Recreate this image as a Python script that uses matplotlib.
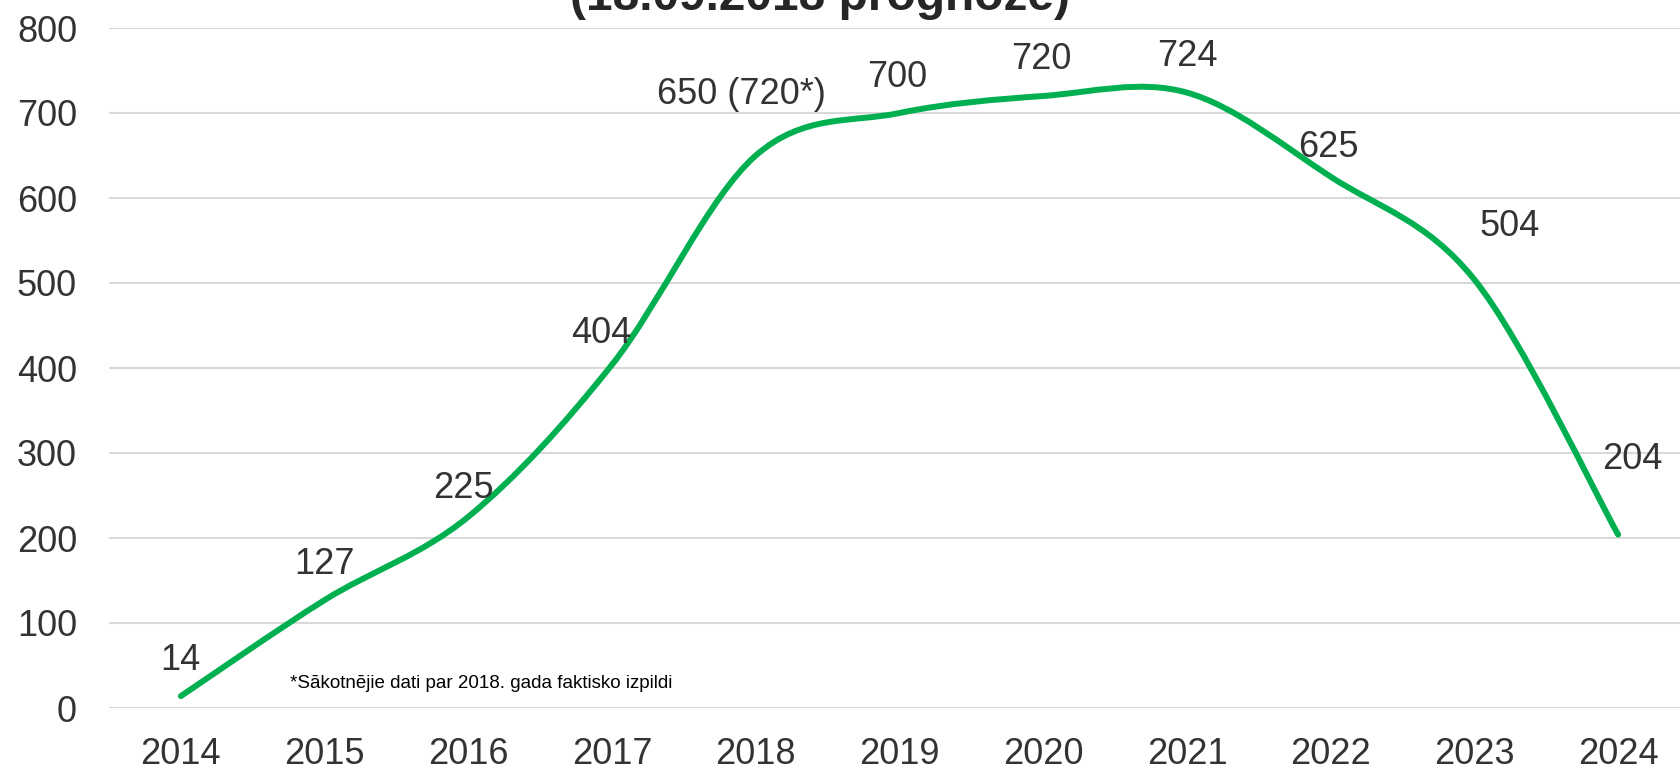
import matplotlib.pyplot as plt
import numpy as np
from matplotlib.path import Path
from matplotlib.patches import PathPatch

plt.rcParams['font.family'] = ['Liberation Sans', 'DejaVu Sans']

gadi = ['2014', '2015', '2016', '2017', '2018', '2019', '2020', '2021', '2022', '2023', '2024']
vertibas = [14, 127, 225, 404, 650, 700, 720, 724, 625, 504, 204]
etiketes = ['14', '127', '225', '404', '650 (720*)', '700', '720', '724', '625', '504', '204']

virsraksts = "(18.09.2018 prognoze)"
piezime = "*Sākotnējie dati par 2018. gada faktisko izpildi"

# etiķešu nobīdes pikseļos (x, y līdz teksta vidum)
nobides = [(0, 39), (0, 39), (-5, 32), (-11, 35), (-14, 64), (-2, 39),
           (-2, 40), (0, 40), (-2, 33), (35, 57), (14, 79)]

zala = '#00B050'
teksts = '#333333'


def gluda_liknes_cels(x, y):
    # Excel līdzīga gludināšana (Catmull-Rom caur Bezier)
    pts = np.column_stack([x, y]).astype(float)
    n = len(pts)
    verts = [pts[0]]
    codes = [Path.MOVETO]
    for i in range(n - 1):
        p0 = pts[i - 1] if i > 0 else pts[i]
        p1 = pts[i]
        p2 = pts[i + 1]
        p3 = pts[i + 2] if i + 2 < n else pts[i + 1]
        c1 = p1 + (p2 - p0) / 6
        c2 = p2 - (p3 - p1) / 6
        verts += [c1, c2, p2]
        codes += [Path.CURVE4] * 3
    return Path(verts, codes)


fig = plt.figure(figsize=(16.81, 7.71), dpi=100)
ax = fig.add_axes([109 / 1681, 63 / 771, 1581 / 1681, 680 / 771])

x = np.arange(len(gadi))
cels = gluda_liknes_cels(x, vertibas)
ax.add_patch(PathPatch(cels, facecolor='none', edgecolor=zala,
                       linewidth=4.3, capstyle='round', zorder=3))

# cipara augstums ~26 px, tāpēc bāzes līnija ir ~13 px zem vidus
for i, (v, t) in enumerate(zip(vertibas, etiketes)):
    dx, dy = nobides[i]
    ax.annotate(t, xy=(x[i], v), xytext=(dx * 0.72, (dy - 13) * 0.72),
                textcoords='offset points', ha='center', va='baseline',
                fontsize=26, color=teksts)

ax.set_xlim(-0.5, len(gadi) - 0.5)
ax.set_ylim(0, 800)
ax.set_yticks(np.arange(0, 801, 100))
ax.set_xticks(x)
ax.set_xticklabels(gadi)

ax.grid(axis='y', color='#D9D9D9', linewidth=1.5)
ax.set_axisbelow(True)
for s in ax.spines.values():
    s.set_visible(False)
ax.tick_params(axis='both', length=0, labelsize=26, labelcolor=teksts)
ax.tick_params(axis='x', pad=21)
ax.tick_params(axis='y', pad=23)

fig.text(820 / 1681, 1 - 10 / 771, virsraksts, ha='center', va='baseline',
         fontsize=34.5, fontweight='bold', color='#262626')

ax.text(290 / 1681, 1 - 688 / 771, piezime, transform=fig.transFigure,
        ha='left', va='baseline', fontsize=13.5, color='black')

fig.savefig('out.png', dpi=100)
